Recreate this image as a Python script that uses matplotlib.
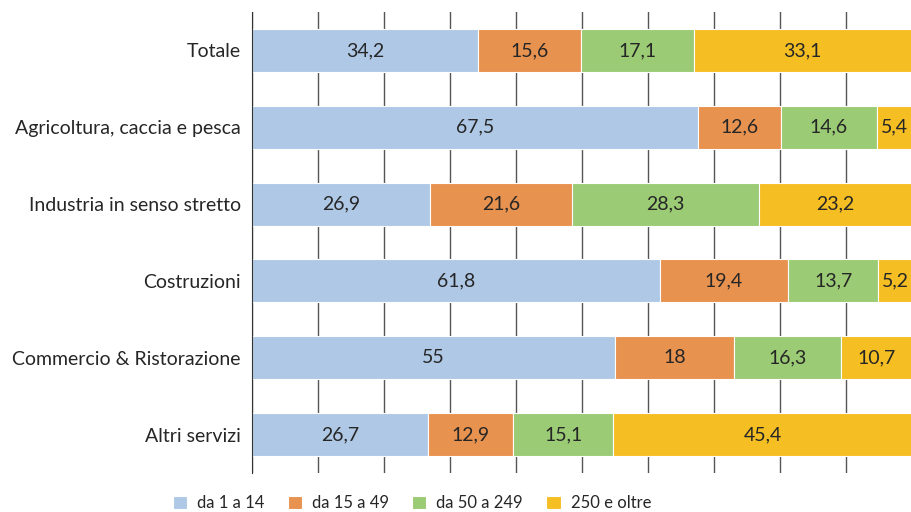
import matplotlib
matplotlib.use('Agg')
import matplotlib.pyplot as plt
import numpy as np

# categories top to bottom
sectors = ['Totale', 'Agricoltura, caccia e pesca', 'Industria in senso stretto',
           'Costruzioni', 'Commercio & Ristorazione', 'Altri servizi']
classes = ['da 1 a 14', 'da 15 a 49', 'da 50 a 249', '250 e oltre']

small = [34.2, 67.5, 26.9, 61.8, 55, 26.7]
medium = [15.6, 12.6, 21.6, 19.4, 18, 12.9]
large = [17.1, 14.6, 28.3, 13.7, 16.3, 15.1]
huge = [33.1, 5.4, 23.2, 5.2, 10.7, 45.4]

colors = ['#AEC8E6', '#E8924F', '#9BCB74', '#F5BE23']

plt.rcParams['font.family'] = ['Lato', 'DejaVu Sans']

fig = plt.figure(figsize=(9.12, 5.12), dpi=100)
ax = fig.add_axes([252/912, 1 - 473/512, 660/912, 461/512])

y = np.arange(len(sectors))
left = np.zeros(len(sectors))
for vals, col, name in zip([small, medium, large, huge], colors, classes):
    vals = np.array(vals, dtype=float)
    bars = ax.barh(y, vals, left=left, height=0.56, color=col,
                   edgecolor='white', linewidth=0.8, label=name, zorder=2)
    for b, v in zip(bars, vals):
        txt = ('%g' % v).replace('.', ',')
        ax.text(b.get_x() + b.get_width() / 2, b.get_y() + b.get_height() / 2, txt,
                ha='center', va='center', fontsize=14, color='#262626', zorder=3)
    left += vals

ax.set_xlim(0, 100)
ax.set_ylim(len(sectors) - 0.5, -0.5)
ax.set_xticks(np.arange(0, 101, 10))
ax.xaxis.grid(True, color='#555555', linewidth=1)
ax.set_axisbelow(True)
ax.tick_params(axis='x', length=0, labelbottom=False)
ax.tick_params(axis='y', length=0, pad=8, labelsize=14, labelcolor='#262626')
ax.set_yticks(y)
ax.set_yticklabels(sectors)
for s in ['top', 'right', 'bottom']:
    ax.spines[s].set_visible(False)
ax.spines['left'].set_color('#333333')

fig.legend(loc='center', bbox_to_anchor=(412/912, 1 - 503/512), ncol=4, frameon=False,
           fontsize=12, handlelength=0.85, handleheight=0.85, handletextpad=0.6,
           columnspacing=1.4, labelcolor='#262626', borderpad=0.2)

fig.savefig('out.png', dpi=100)
